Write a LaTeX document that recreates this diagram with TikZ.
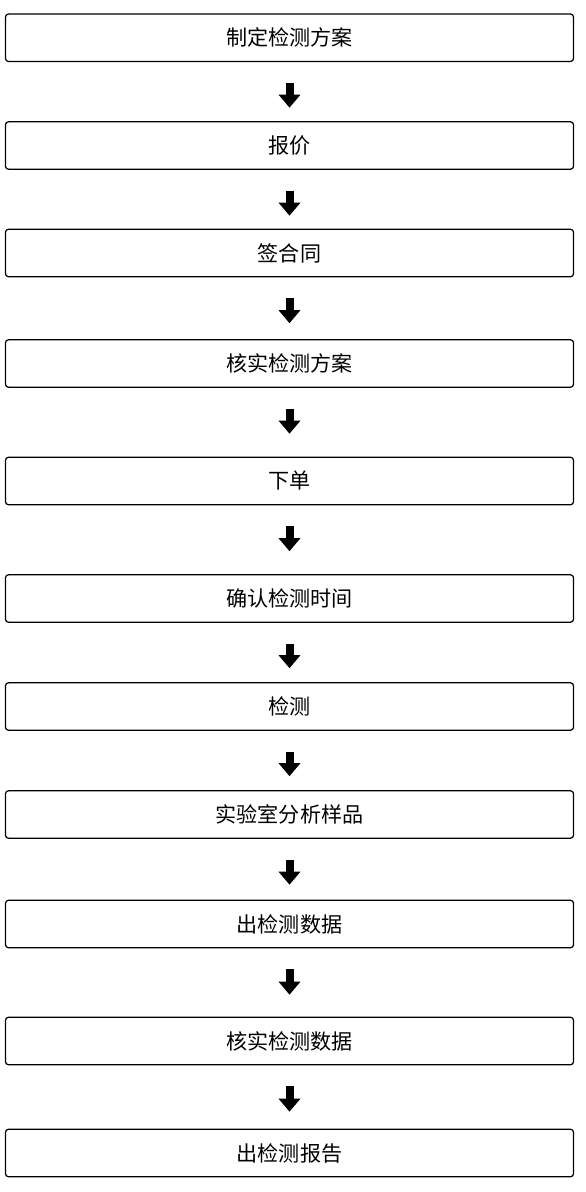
\documentclass[tikz,border=0pt]{standalone}
\usepackage{fontspec}
\newfontfamily\cjk{Noto Sans CJK SC}
\usetikzlibrary{arrows.meta}

\begin{document}
\begin{tikzpicture}[
        every node/.style={font=\cjk\fontsize{12}{14}\selectfont},
        stepbox/.style={draw=black, line width=0.7pt, rounded corners=0.06cm,
            minimum width=11.36cm, minimum height=0.95cm, inner sep=0pt},
        blockarrow/.style={-{Triangle[width=0.44cm, length=0.26cm, line width=0pt]},
            line width=0.16cm, draw=black, shorten <=0.42cm}
    ]

        \useasboundingbox (0,0) rectangle (11.72,-23.84);

        % -------------------------------------------------
        % Pasos del proceso
        % -------------------------------------------------
        \node[stepbox] (p1)  at (5.79,-0.755)  {制定检测方案};
        \node[stepbox] (p2)  at (5.79,-2.91)   {报价};
        \node[stepbox] (p3)  at (5.79,-5.06)   {签合同};
        \node[stepbox] (p4)  at (5.79,-7.27)   {核实检测方案};
        \node[stepbox] (p5)  at (5.79,-9.62)   {下单};
        \node[stepbox] (p6)  at (5.79,-11.97)  {确认检测时间};
        \node[stepbox] (p7)  at (5.79,-14.13)  {检测};
        \node[stepbox] (p8)  at (5.79,-16.29)  {实验室分析样品};
        \node[stepbox] (p9)  at (5.79,-18.48)  {出检测数据};
        \node[stepbox] (p10) at (5.79,-20.82)  {核实检测数据};
        \node[stepbox] (p11) at (5.79,-23.06)  {出检测报告};

        % -------------------------------------------------
        % Flechas
        % -------------------------------------------------
        \foreach \a/\b/\s in {p1/p2/0.27, p2/p3/0.26, p3/p4/0.32, p4/p5/0.46,
                p5/p6/0.46, p6/p7/0.28, p7/p8/0.28, p8/p9/0.30, p9/p10/0.44,
                p10/p11/0.34} {
            \draw[blockarrow, shorten >=\s cm] (\a) -- (\b);
        }

    \end{tikzpicture}
\end{document}
